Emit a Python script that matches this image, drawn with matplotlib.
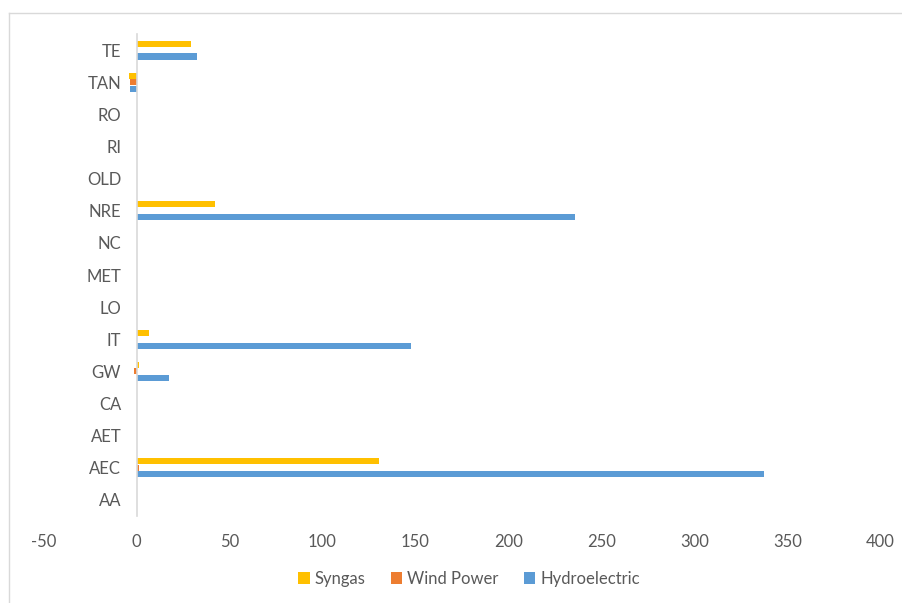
import matplotlib
matplotlib.use("Agg")
import matplotlib.pyplot as plt
from matplotlib.lines import Line2D
import numpy as np

plt.rcParams['font.family'] = ['Lato', 'DejaVu Sans']

categories = ['AA', 'AEC', 'AET', 'CA', 'GW', 'IT', 'LO', 'MET', 'NC', 'NRE',
              'OLD', 'RI', 'RO', 'TAN', 'TE']
syngas = [0.4, 130.4, 0, 0, 1.2, 6.5, 0, 0, 0, 42.0, 0, 0, 0, -3.8, 29.5]
wind_power = [0.3, 1.5, 0, 0, -1.5, 0, 0, 0, 0, 0, 0, 0, 0, -3.6, 0]
hydroelectric = [0.3, 337.6, 0, 0, 17.4, 147.5, 0, 0, 0, 235.7, 0, 0, 0, -3.5, 32.3]
x_ticks = [-50, 0, 50, 100, 150, 200, 250, 300, 350, 400]

C_SYN = '#FFC000'
C_WIND = '#ED7D31'
C_HYDRO = '#5B9BD5'
TXT = '#595959'

fig = plt.figure(figsize=(9.03, 6.03), dpi=100)
ax = fig.add_axes([43.5 / 903, 1 - 516 / 603, (880.5 - 43.5) / 903, (516 - 34) / 603])

y = np.arange(len(categories))
h = 0.19
step = 0.2
ax.barh(y + step, syngas, height=h, color=C_SYN, label='Syngas')
ax.barh(y, wind_power, height=h, color=C_WIND, label='Wind Power')
ax.barh(y - step, hydroelectric, height=h, color=C_HYDRO, label='Hydroelectric')

ax.set_xlim(-50, 400)
ax.set_ylim(-0.5, len(categories) - 0.5)
ax.set_xticks(x_ticks)
ax.set_xticklabels([str(v) for v in x_ticks])
ax.set_yticks(y)
ax.set_yticklabels(categories)

for s in ['top', 'right', 'bottom']:
    ax.spines[s].set_visible(False)
ax.spines['left'].set_position(('data', 0))
ax.spines['left'].set_color('#D9D9D9')
ax.spines['left'].set_linewidth(1.2)
ax.tick_params(axis='both', length=0, labelsize=12, labelcolor=TXT)
ax.tick_params(axis='y', pad=11)
ax.tick_params(axis='x', pad=13)

fig.legend(loc='center', bbox_to_anchor=(469 / 903, 1 - 579 / 603), ncol=3,
           frameon=False, fontsize=12, labelcolor=TXT, handlelength=0.7,
           handleheight=0.7, handletextpad=0.3, columnspacing=1.5)

# outer chart frame
fig.add_artist(Line2D([9.5 / 903, 9.5 / 903], [1 - 12.5 / 603, 0], transform=fig.transFigure,
                      color='#D9D9D9', lw=1))
fig.add_artist(Line2D([9.5 / 903, 1], [1 - 12.5 / 603, 1 - 12.5 / 603], transform=fig.transFigure,
                      color='#D9D9D9', lw=1))

fig.savefig('out.png', dpi=100, facecolor='white')
